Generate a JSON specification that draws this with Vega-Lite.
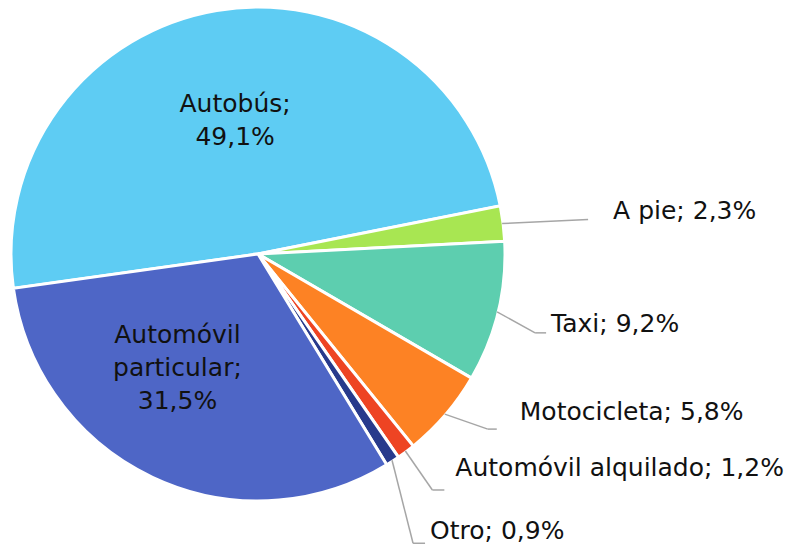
{
  "$schema": "https://vega.github.io/schema/vega-lite/v6.json",
  "width": 516,
  "height": 508,
  "autosize": {"type": "none"},
  "padding": {"left": 0, "top": 0, "right": 285, "bottom": 45},
  "background": "white",
  "config": {"view": {"stroke": null}, "text": {"font": "DejaVu Sans", "fontSize": 25, "color": "#111111"}},
  "data": {"values": [
    {"modo": "Autobús", "pct": 49.1, "orden": 1},
    {"modo": "A pie", "pct": 2.3, "orden": 2},
    {"modo": "Taxi", "pct": 9.2, "orden": 3},
    {"modo": "Motocicleta", "pct": 5.8, "orden": 4},
    {"modo": "Automóvil alquilado", "pct": 1.2, "orden": 5},
    {"modo": "Otro", "pct": 0.9, "orden": 6},
    {"modo": "Automóvil particular", "pct": 31.5, "orden": 7}
  ]},
  "transform": [
    {"joinaggregate": [{"op": "sum", "field": "pct", "as": "total"}]},
    {"window": [{"op": "sum", "field": "pct", "as": "cum"}], "sort": [{"field": "orden"}], "frame": [null, 0]},
    {"calculate": "4.5728 + 2*PI*(datum.cum - datum.pct/2)/datum.total", "as": "mid"},
    {"calculate": "246*sin(datum.mid)", "as": "ex"},
    {"calculate": "246*cos(datum.mid)", "as": "ey"},
    {"calculate": "137*sin(datum.mid)", "as": "ix"},
    {"calculate": "137*cos(datum.mid)", "as": "iy"},
    {"calculate": "replace(format(datum.pct, '.1f'), '.', ',') + '%'", "as": "pctTxt"},
    {"calculate": "datum.modo + '; ' + datum.pctTxt", "as": "etiqueta"},
    {"calculate": "replace(datum.modo, ' ', '\\n') + ';\\n' + datum.pctTxt", "as": "etiquetaDentro"}
  ],
  "layer": [
    {
      "mark": {"type": "arc", "outerRadius": 247, "stroke": "white", "strokeWidth": 3},
      "encoding": {
        "theta": {"field": "pct", "type": "quantitative", "stack": true, "scale": {"range": [4.5728, 10.8560]}},
        "order": {"field": "orden", "type": "quantitative"},
        "color": {
          "field": "modo", "type": "nominal", "legend": null,
          "scale": {
            "domain": ["Autobús", "A pie", "Taxi", "Motocicleta", "Automóvil alquilado", "Otro", "Automóvil particular"],
            "range": ["#5ECCF3", "#A8E652", "#5DCEAF", "#FD8224", "#EE4423", "#283A8C", "#4E66C6"]
          }
        }
      }
    },
    {
      "transform": [{"filter": "datum.modo === 'Autobús'"}],
      "mark": {"type": "text", "lineBreak": "\n", "align": "center", "baseline": "middle", "lineHeight": 33, "dy": -15},
      "encoding": {
        "x": {"field": "ix", "type": "quantitative", "scale": {"domain": [-258, 258], "nice": false, "zero": false}, "axis": null},
        "y": {"field": "iy", "type": "quantitative", "scale": {"domain": [-254, 254], "nice": false, "zero": false}, "axis": null},
        "text": {"field": "etiquetaDentro"}
      }
    },
    {
      "transform": [{"filter": "datum.modo === 'Automóvil particular'"}],
      "mark": {"type": "text", "lineBreak": "\n", "align": "center", "baseline": "middle", "lineHeight": 33, "dx": -22, "dy": -43},
      "encoding": {
        "x": {"field": "ix", "type": "quantitative", "axis": null},
        "y": {"field": "iy", "type": "quantitative", "axis": null},
        "text": {"field": "etiquetaDentro"}
      }
    },
    {
      "transform": [{"filter": "datum.modo === 'A pie'"}],
      "layer": [
        {
          "mark": {"type": "rule", "color": "#A6A6A6", "strokeWidth": 1.5, "x2Offset": 86, "y2Offset": -4},
          "encoding": {
            "x": {"field": "ex", "type": "quantitative", "axis": null},
            "y": {"field": "ey", "type": "quantitative", "axis": null},
            "x2": {"field": "ex"}, "y2": {"field": "ey"}
          }
        },
        {
          "mark": {"type": "text", "align": "left", "baseline": "alphabetic", "dx": 111, "dy": -5},
          "encoding": {
            "x": {"field": "ex", "type": "quantitative", "axis": null},
            "y": {"field": "ey", "type": "quantitative", "axis": null},
            "text": {"field": "etiqueta"}
          }
        }
      ]
    },
    {
      "transform": [{"filter": "datum.modo === 'Taxi'"}],
      "layer": [
        {
          "mark": {"type": "rule", "color": "#A6A6A6", "strokeWidth": 1.5, "x2Offset": 38, "y2Offset": 21},
          "encoding": {
            "x": {"field": "ex", "type": "quantitative", "axis": null},
            "y": {"field": "ey", "type": "quantitative", "axis": null},
            "x2": {"field": "ex"}, "y2": {"field": "ey"}
          }
        },
        {
          "mark": {"type": "rule", "color": "#A6A6A6", "strokeWidth": 1.5, "xOffset": 38, "yOffset": 21, "x2Offset": 49, "y2Offset": 21},
          "encoding": {
            "x": {"field": "ex", "type": "quantitative", "axis": null},
            "y": {"field": "ey", "type": "quantitative", "axis": null},
            "x2": {"field": "ex"}, "y2": {"field": "ey"}
          }
        },
        {
          "mark": {"type": "text", "align": "left", "baseline": "alphabetic", "dx": 54, "dy": 20},
          "encoding": {
            "x": {"field": "ex", "type": "quantitative", "axis": null},
            "y": {"field": "ey", "type": "quantitative", "axis": null},
            "text": {"field": "etiqueta"}
          }
        }
      ]
    },
    {
      "transform": [{"filter": "datum.modo === 'Motocicleta'"}],
      "layer": [
        {
          "mark": {"type": "rule", "color": "#A6A6A6", "strokeWidth": 1.5, "x2Offset": 43, "y2Offset": 15},
          "encoding": {
            "x": {"field": "ex", "type": "quantitative", "axis": null},
            "y": {"field": "ey", "type": "quantitative", "axis": null},
            "x2": {"field": "ex"}, "y2": {"field": "ey"}
          }
        },
        {
          "mark": {"type": "rule", "color": "#A6A6A6", "strokeWidth": 1.5, "xOffset": 43, "yOffset": 15, "x2Offset": 52, "y2Offset": 15},
          "encoding": {
            "x": {"field": "ex", "type": "quantitative", "axis": null},
            "y": {"field": "ey", "type": "quantitative", "axis": null},
            "x2": {"field": "ex"}, "y2": {"field": "ey"}
          }
        },
        {
          "mark": {"type": "text", "align": "left", "baseline": "alphabetic", "dx": 75, "dy": 6},
          "encoding": {
            "x": {"field": "ex", "type": "quantitative", "axis": null},
            "y": {"field": "ey", "type": "quantitative", "axis": null},
            "text": {"field": "etiqueta"}
          }
        }
      ]
    },
    {
      "transform": [{"filter": "datum.modo === 'Automóvil alquilado'"}],
      "layer": [
        {
          "mark": {"type": "rule", "color": "#A6A6A6", "strokeWidth": 1.5, "x2Offset": 27, "y2Offset": 39},
          "encoding": {
            "x": {"field": "ex", "type": "quantitative", "axis": null},
            "y": {"field": "ey", "type": "quantitative", "axis": null},
            "x2": {"field": "ex"}, "y2": {"field": "ey"}
          }
        },
        {
          "mark": {"type": "rule", "color": "#A6A6A6", "strokeWidth": 1.5, "xOffset": 27, "yOffset": 39, "x2Offset": 39, "y2Offset": 39},
          "encoding": {
            "x": {"field": "ex", "type": "quantitative", "axis": null},
            "y": {"field": "ey", "type": "quantitative", "axis": null},
            "x2": {"field": "ex"}, "y2": {"field": "ey"}
          }
        },
        {
          "mark": {"type": "text", "align": "left", "baseline": "alphabetic", "dx": 50, "dy": 25},
          "encoding": {
            "x": {"field": "ex", "type": "quantitative", "axis": null},
            "y": {"field": "ey", "type": "quantitative", "axis": null},
            "text": {"field": "etiqueta"}
          }
        }
      ]
    },
    {
      "transform": [{"filter": "datum.modo === 'Otro'"}],
      "layer": [
        {
          "mark": {"type": "rule", "color": "#A6A6A6", "strokeWidth": 1.5, "x2Offset": 21, "y2Offset": 83},
          "encoding": {
            "x": {"field": "ex", "type": "quantitative", "axis": null},
            "y": {"field": "ey", "type": "quantitative", "axis": null},
            "x2": {"field": "ex"}, "y2": {"field": "ey"}
          }
        },
        {
          "mark": {"type": "rule", "color": "#A6A6A6", "strokeWidth": 1.5, "xOffset": 21, "yOffset": 83, "x2Offset": 33, "y2Offset": 83},
          "encoding": {
            "x": {"field": "ex", "type": "quantitative", "axis": null},
            "y": {"field": "ey", "type": "quantitative", "axis": null},
            "x2": {"field": "ex"}, "y2": {"field": "ey"}
          }
        },
        {
          "mark": {"type": "text", "align": "left", "baseline": "alphabetic", "dx": 38, "dy": 79},
          "encoding": {
            "x": {"field": "ex", "type": "quantitative", "axis": null},
            "y": {"field": "ey", "type": "quantitative", "axis": null},
            "text": {"field": "etiqueta"}
          }
        }
      ]
    }
  ]
}
